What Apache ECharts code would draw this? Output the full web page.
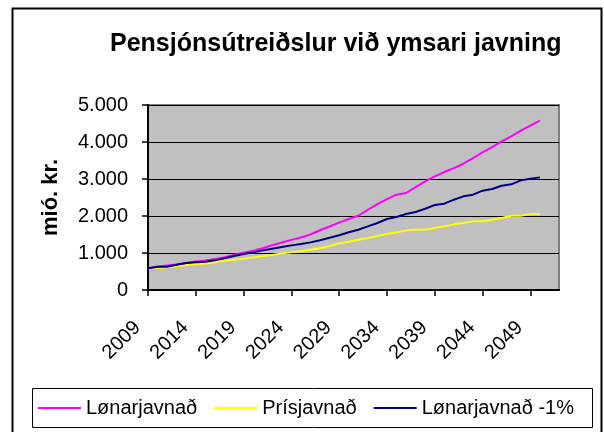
<!DOCTYPE html>
<html>
<head>
<meta charset="utf-8">
<script src="https://cdn.jsdelivr.net/npm/echarts@6/dist/echarts.min.js"></script>
<style>
  html, body { margin: 0; padding: 0; background: #fff; }
  #chart { width: 604px; height: 432px; }
</style>
</head>
<body>
<div id="chart"></div>
<script>
// Pensjónsútreiðslur (mió. kr.) við trimum javningarháttum, 2009–2050
const years = [
  '2009', '2010', '2011', '2012', '2013', '2014', '2015', '2016', '2017', '2018',
  '2019', '2020', '2021', '2022', '2023', '2024', '2025', '2026', '2027', '2028',
  '2029', '2030', '2031', '2032', '2033', '2034', '2035', '2036', '2037', '2038',
  '2039', '2040', '2041', '2042', '2043', '2044', '2045', '2046', '2047', '2048',
  '2049', '2050', '2051', '2052'
];

const lonarjavnad = [
  590, 630, 660, 690, 730, 770, 800, 840, 885, 950,
  1005, 1060, 1130, 1210, 1285, 1355, 1420, 1500, 1615, 1715,
  1820, 1918, 2007, 2169, 2323, 2458, 2576, 2621, 2783, 2936,
  3071, 3188, 3296, 3413, 3567, 3720, 3864, 4017, 4152, 4305,
  4440, 4575, null, null
];

const prisjavnad = [
  590, 595, 612, 640, 675, 700, 712, 748, 790, 820,
  846, 882, 918, 945, 990, 1017, 1045, 1090, 1130, 1190,
  1260, 1305, 1360, 1405, 1460, 1513, 1558, 1612, 1630, 1630,
  1675, 1720, 1774, 1810, 1855, 1855, 1900, 1945, 2008, 2008,
  2053, 2053, null, null
];

const lonarjavnadMinus1 = [
  590, 630, 630, 684, 729, 747, 765, 801, 855, 918,
  972, 1017, 1071, 1116, 1161, 1206, 1242, 1287, 1345, 1410,
  1480, 1560, 1630, 1720, 1810, 1918, 1972, 2053, 2107, 2197,
  2297, 2333, 2441, 2531, 2576, 2684, 2729, 2819, 2855, 2963,
  3008, 3044, null, null
];

const seriesNames = ['Lønarjavnað', 'Prísjavnað', 'Lønarjavnað -1%'];
const seriesColors = ['#FF00FF', '#FFFF00', '#000080'];

const FONT = '"Liberation Sans", Arial, sans-serif';

const chart = echarts.init(document.getElementById('chart'), null, { renderer: 'canvas' });

function fmtThousands(v) {
  return String(v).replace(/\B(?=(\d{3})+(?!\d))/g, '.');
}

chart.setOption({
  animation: false,
  backgroundColor: '#ffffff',
  color: seriesColors,
  textStyle: { fontFamily: FONT },
  title: {
    text: 'Pensjónsútreiðslur við ymsari javning',
    left: 110,
    top: 32,
    padding: 0,
    textStyle: { fontFamily: FONT, fontSize: 25, fontWeight: 'bold', color: '#000' }
  },
  graphic: [
    {
      type: 'rect',
      silent: true,
      z: -10,
      shape: { x: 12.5, y: 8.5, width: 589, height: 440 },
      style: { fill: 'none', stroke: '#000', lineWidth: 2 }
    },
    {
      type: 'rect',
      silent: true,
      z: -5,
      shape: { x: 32.5, y: 388.5, width: 560, height: 39 },
      style: { fill: '#fff', stroke: '#000', lineWidth: 1 }
    }
  ],
  legend: {
    data: seriesNames,
    left: 38,
    top: 398,
    padding: 0,
    icon: 'rect',
    itemWidth: 43,
    itemHeight: 2,
    itemGap: 17,
    itemTextGap: 7,
    textStyle: { fontFamily: FONT, fontSize: 20, color: '#000' }
  },
  grid: {
    left: 148,
    right: 45,
    top: 105,
    bottom: 142,
    show: true,
    backgroundColor: '#C0C0C0',
    borderColor: '#808080',
    borderWidth: 2,
    outerBoundsMode: 'none',
    containLabel: false
  },
  xAxis: {
    type: 'category',
    data: years,
    boundaryGap: false,
    axisLine: { show: true, lineStyle: { color: '#000', width: 2 } },
    axisTick: { show: true, interval: 4, length: 6, lineStyle: { color: '#000', width: 1.5 } },
    axisLabel: {
      interval: 4,
      rotate: 45,
      margin: 24,
      padding: [0, 15, 0, 0],
      fontFamily: FONT,
      fontSize: 20,
      color: '#000'
    },
    splitLine: { show: false }
  },
  yAxis: {
    type: 'value',
    min: 0,
    max: 5000,
    interval: 1000,
    name: 'mió. kr.',
    nameLocation: 'middle',
    nameRotate: 90,
    nameGap: 86,
    nameTextStyle: { fontFamily: FONT, fontSize: 22, fontWeight: 'bold', color: '#000' },
    axisLine: { show: true, lineStyle: { color: '#000', width: 2 } },
    axisTick: { show: true, length: 6, lineStyle: { color: '#000', width: 1.5 } },
    axisLabel: {
      margin: 20,
      fontFamily: FONT,
      fontSize: 20,
      color: '#000',
      formatter: fmtThousands
    },
    splitLine: { show: true, lineStyle: { color: '#000', width: 1 } }
  },
  series: [
    {
      name: seriesNames[0],
      type: 'line',
      data: lonarjavnad,
      symbol: 'none',
      lineStyle: { width: 2, color: seriesColors[0] },
      itemStyle: { color: seriesColors[0] },
      z: 3
    },
    {
      name: seriesNames[1],
      type: 'line',
      data: prisjavnad,
      symbol: 'none',
      lineStyle: { width: 2, color: seriesColors[1] },
      itemStyle: { color: seriesColors[1] },
      z: 2
    },
    {
      name: seriesNames[2],
      type: 'line',
      data: lonarjavnadMinus1,
      symbol: 'none',
      lineStyle: { width: 2, color: seriesColors[2] },
      itemStyle: { color: seriesColors[2] },
      z: 4
    }
  ]
});
</script>
</body>
</html>
